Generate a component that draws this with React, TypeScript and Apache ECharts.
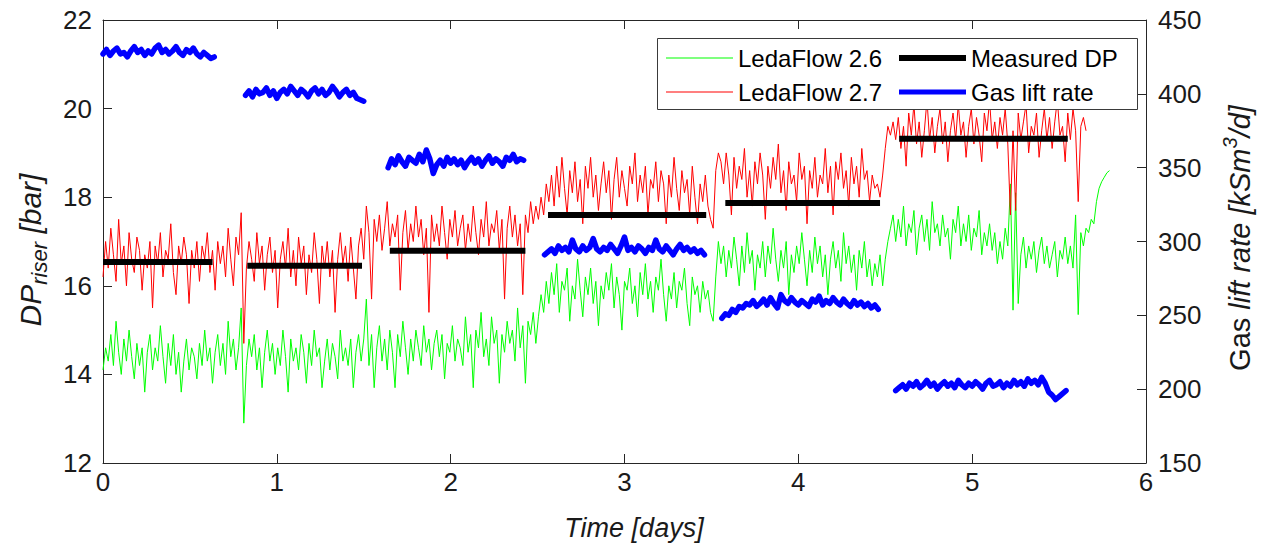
import React, { useEffect, useRef } from "react";
import * as echarts from "echarts";

// ---------------- data ----------------
// simulated DP (bar), sampled every STEP days starting at t = 0
const STEP = 0.015;
const ledaFlow26: number[] = [
  14.1, 14.6, 14.3, 14.9, 14.2, 15.2, 14.5, 14.0, 14.8, 14.3, 15.0, 14.4, 13.9, 14.7, 14.2, 14.6, 13.6, 14.5, 14.9, 14.1,
  14.6, 14.3, 15.1, 14.4, 13.8, 14.7, 14.2, 14.9, 14.0, 14.5, 13.6, 14.3, 14.8, 14.1, 14.6, 14.4, 13.9, 14.7, 14.2, 15.0,
  14.3, 14.6, 13.8, 14.5, 14.9, 14.2, 14.7, 14.0, 15.2, 14.4, 14.8, 14.1, 14.6,
  15.5, 12.9,
  14.2, 14.8, 14.4, 14.9, 14.1, 14.6, 13.7, 14.5, 15.0, 14.3, 14.7, 14.0, 14.6, 14.2, 15.0, 14.4, 13.6, 14.8, 14.3, 14.6,
  14.1, 14.9, 14.5, 13.8, 14.7, 14.2, 15.0, 14.4, 14.6, 13.7, 14.3, 14.8, 14.1, 14.7, 14.4, 13.9, 15.0, 14.3, 14.6, 14.2,
  14.8, 13.7, 14.5, 14.9, 14.3, 14.8,
  15.7, 14.2, 14.9, 13.7, 14.6, 15.1, 14.3, 14.8, 14.1, 15.0, 14.5, 13.7, 14.9, 14.4, 15.2, 14.6, 14.0, 14.8, 14.3, 15.0,
  14.6, 14.2, 15.1, 14.5, 14.8, 14.1, 14.7, 15.0, 14.4, 14.9, 13.9, 14.7, 14.5, 15.1, 14.3, 14.8, 14.6, 14.2, 15.3, 14.5,
  14.9, 13.7, 15.0, 14.6, 15.4, 14.4, 14.8, 14.2, 15.3, 14.7, 15.0, 13.8, 14.9, 14.5, 15.2, 14.7, 15.0, 14.3, 15.5, 14.6,
  15.1, 13.8, 15.2, 14.9, 15.4, 14.7,
  15.3, 15.8, 15.4, 16.1,
  15.6, 16.3, 15.8, 16.5, 15.4, 16.1, 15.9, 16.4, 15.2, 16.0, 15.7, 16.6, 15.9, 15.3, 16.2, 15.8, 16.4, 15.6, 16.1, 15.1,
  16.0, 15.7, 16.3, 15.9, 16.5, 15.5, 16.2, 15.8, 15.0, 16.1, 15.9, 16.4, 15.6, 16.0, 15.3, 16.3, 15.8, 16.5, 15.7, 16.1,
  15.4, 16.2, 15.9, 16.6, 15.8, 15.2, 16.0, 15.7, 16.3, 15.5, 16.1, 15.9, 16.4, 15.6, 15.1, 16.2, 15.8, 16.0, 15.4, 16.1,
  15.7, 15.9,
  15.4, 15.2, 16.2, 17.0,
  16.5, 16.9, 16.2, 16.8, 16.4, 17.1, 16.6, 16.0, 16.9, 16.3, 17.2, 16.5, 16.8, 15.9, 16.7, 16.4, 17.0, 16.2, 16.9, 16.5,
  17.3, 16.6, 16.1, 16.8, 16.4, 17.0, 15.8, 16.7, 16.3, 16.9, 16.5, 17.2, 16.6, 16.0, 16.8, 16.3, 17.1, 16.5, 16.9, 16.2,
  16.7, 15.8, 16.6, 17.0, 16.4, 16.8, 16.1, 17.2, 16.5, 16.9, 16.3, 16.7, 15.9, 16.8, 16.4, 17.0, 16.2, 16.6, 16.0, 16.5,
  16.2, 16.7,
  16.0, 16.6, 17.0, 17.3, 17.6,
  17.0, 17.5, 17.1, 17.8, 16.9, 17.4, 17.2, 17.7, 16.7, 17.3, 17.6, 17.0, 17.5, 16.8, 17.9, 17.2, 17.4, 16.9, 17.6, 17.1,
  17.3, 16.6, 17.5, 17.2, 17.8, 16.9, 17.4, 17.0, 17.6, 16.8, 17.3, 17.1, 17.7, 16.7, 17.2, 16.9, 17.4,
  16.8, 17.2, 16.5, 17.0, 16.6, 17.3, 16.9, 18.3, 15.45, 18.1, 15.6, 16.7, 17.1, 16.4, 16.9, 16.6, 17.0, 16.3, 16.8, 17.1,
  16.5, 16.9, 16.4, 16.7, 17.0, 16.2, 16.8, 16.6, 17.1, 16.5, 16.9, 16.4,
  17.6, 15.35, 17.2,
  16.9, 17.3, 17.2, 17.5, 17.4, 17.9, 18.2, 18.35, 18.45, 18.55, 18.6,
];
const ledaFlow27: number[] = [
  16.2, 17.0, 16.4, 17.3, 16.7, 16.1, 17.5, 16.5, 16.9, 16.0, 17.2, 16.6, 16.3, 17.1, 16.8, 15.9, 16.7, 16.4, 17.0, 15.5,
  16.9, 16.5, 17.2, 16.2, 16.8, 16.6, 17.4, 16.3, 15.8, 16.9, 16.5, 17.1, 16.7, 15.6, 16.8, 16.4, 17.0, 16.1, 16.9, 16.6,
  17.2, 16.3, 16.8, 15.9, 17.0, 16.5, 16.9, 16.2, 17.3, 16.6, 16.0, 17.1, 16.7,
  17.65, 14.7,
  16.4, 17.0, 16.6, 16.1, 17.2, 16.5, 16.9, 15.9, 16.7, 17.1, 16.3, 16.8, 15.5, 16.6, 17.0, 16.4, 17.3, 16.2, 16.8, 16.0,
  17.1, 16.5, 16.9, 15.8, 16.7, 16.3, 17.2, 16.6, 15.6, 16.9, 16.4, 17.0, 16.2, 16.8, 15.4, 16.6, 17.2, 16.5, 16.9, 16.1,
  17.1, 16.4, 15.7, 16.9, 17.3, 16.6,
  17.8, 17.2, 15.7, 17.5, 17.0, 17.6, 16.8, 17.3, 17.9, 16.9, 17.4, 17.1, 17.6, 15.9, 17.2, 17.7, 16.8, 17.4, 17.0, 17.8,
  17.1, 17.5, 16.7, 17.3, 15.4, 17.6, 17.0, 17.4, 16.9, 17.8, 17.2, 16.6, 17.5, 17.1, 17.7, 16.9, 17.3, 17.6, 16.8, 17.4,
  17.0, 17.8, 17.2, 16.7, 17.5, 17.1, 17.9, 16.9, 17.4, 17.2, 17.7, 16.8, 17.5, 15.7, 17.3, 17.8, 17.1, 17.6, 16.9, 17.4,
  15.8, 17.6, 17.2, 17.9, 17.4, 17.8,
  17.5, 18.0, 17.6, 18.3, 17.9,
  18.5, 17.8, 18.7, 18.0, 18.9, 18.2, 17.6, 18.6, 18.1, 18.8, 17.9, 18.4, 17.4, 18.7, 18.2, 18.9, 18.0, 18.5, 17.7, 18.3,
  18.8, 18.1, 18.6, 17.5, 18.4, 18.9, 18.0, 18.6, 18.2, 17.8, 18.7, 18.3, 19.0, 17.9, 18.5, 18.1, 18.7, 17.6, 18.4, 18.2,
  18.8, 17.9, 18.6, 18.3, 17.4, 18.5, 18.0, 18.9, 18.2, 17.7, 18.6, 18.1, 18.4, 17.6, 18.7, 18.0, 17.4, 18.3, 17.9, 18.5,
  17.8,
  17.5, 17.3, 18.6, 19.0,
  18.8, 18.3, 19.0, 18.5, 17.6, 18.9, 18.2, 18.7, 18.4, 19.1, 18.0, 18.6, 17.8, 18.8, 18.3, 19.0, 18.5, 17.5, 18.7, 18.2,
  18.9, 18.4, 19.2, 18.1, 18.6, 17.7, 18.8, 18.3, 18.5, 17.9, 19.0, 18.4, 18.7, 17.4, 18.6, 18.2, 18.9, 18.0, 18.5, 18.3,
  19.1, 18.1, 18.7, 17.6, 18.8, 18.4, 19.0, 18.2, 18.6, 17.8, 18.9, 18.3, 18.7, 18.0, 19.1, 18.4, 18.6, 17.9, 18.5, 18.2,
  18.3,
  18.0, 18.5, 19.1, 19.6, 19.4, 19.7,
  19.3, 19.8, 19.1, 19.6, 18.7, 19.9, 19.4, 20.1, 19.2, 19.7, 18.9, 19.5, 20.2, 19.3, 19.8, 19.0, 19.6, 20.0, 19.2, 19.7,
  18.8, 19.5, 19.9, 19.3, 20.1, 19.4, 19.7, 18.9, 19.6, 20.0, 19.2, 19.8, 19.4, 18.8, 19.9, 19.5, 20.2, 19.3, 19.7, 19.1,
  19.8, 19.4, 20.0, 19.2, 17.6, 19.5, 17.7, 19.9, 19.3, 19.7, 20.1, 19.0, 19.6, 19.4, 19.9, 18.9, 19.5, 20.0, 19.3, 19.8,
  19.1, 19.7, 20.2, 19.4, 19.6, 18.8, 19.9, 19.3, 20.0, 19.5, 17.9, 19.6, 19.8,
  19.5,
];

// measured DP plateaus (bar)
const measuredStart = [0, 0.83, 1.65, 2.56, 3.58, 4.58];
const measuredEnd = [0.63, 1.49, 2.43, 3.47, 4.47, 5.55];
const measuredDP = [16.54, 16.45, 16.79, 17.6, 17.87, 19.32];

// gas lift rate (kSm3/d), each segment sampled every GAS_STEP days from its start
const GAS_STEP = 0.02;
const gasStart = [0, 0.82, 1.64, 2.54, 3.56, 4.56];
const gasSeg1 = [
  427, 430, 426, 429, 431, 427, 428, 425, 429, 432, 428, 430, 426, 429, 427, 431, 433, 428, 430, 427,
  429, 432, 428, 426, 430, 428, 431, 427, 425, 428, 426, 424, 425,
];
const gasSeg2 = [
  399, 402, 398, 403, 400, 401, 404, 399, 402, 397, 401, 403, 400, 405, 402, 399, 403, 401, 398, 402,
  404, 400, 403, 399, 401, 405, 402, 398, 401, 403, 399, 401, 397, 396, 395,
];
const gasSeg3 = [
  350, 356, 352, 358, 354, 351, 357, 355, 353, 359, 354, 362, 356, 346, 352, 355, 351, 357, 353, 356,
  352, 355, 350, 354, 357, 353, 356, 351, 355, 358, 353, 356, 354, 351, 357, 355, 359, 354, 356, 355,
];
const gasSeg4 = [
  291, 293, 295, 292, 297, 294, 296, 293, 301, 295, 293, 297, 294, 296, 302, 295, 293, 296, 294, 298,
  295, 292, 297, 303, 294, 296, 293, 297, 295, 292, 296, 294, 301, 295, 293, 297, 294, 291, 295, 298,
  294, 296, 293, 295, 292, 294, 291,
];
const gasSeg5 = [
  248, 251, 250, 254, 252, 256, 255, 258, 257, 260, 256, 258, 261, 257, 262, 258, 255, 264, 260, 258,
  262, 259, 257, 260, 258, 256, 261, 259, 263, 257, 260, 258, 262, 259, 257, 261, 258, 256, 260, 257,
  259, 256, 258, 255, 257, 254,
];
const gasSeg6 = [
  199, 201, 203, 200, 204, 202, 205, 201, 203, 206, 202, 204, 200, 203, 205, 202, 204, 201, 206, 203,
  201, 204, 202, 205, 203, 200, 204, 206, 202, 203, 205, 201, 204, 202, 206, 203, 205, 202, 207, 204,
  206, 203, 208, 204, 198, 196, 193, 195, 197, 199,
];
const gasSegments = [gasSeg1, gasSeg2, gasSeg3, gasSeg4, gasSeg5, gasSeg6];

// legend entries: name, column, row, icon thickness
const legendNames = ["LedaFlow 2.6", "LedaFlow 2.7", "Measured DP", "Gas lift rate"];

// ---------------- styling ----------------
const FONT = "'Liberation Sans', Arial, Helvetica, sans-serif";
const AX = "#262626";
const TXT = "#1a1a1a";

function measure(ctx: CanvasRenderingContext2D, text: string, size: number, italic: boolean) {
  ctx.font = `${italic ? "italic " : ""}${size}px ${FONT}`;
  return ctx.measureText(text).width;
}

type Part = { text: string; size: number; italic: boolean; dy: number };

function titleGroup(ctx: CanvasRenderingContext2D, parts: Part[], cx: number, cy: number, rotation: number) {
  const widths = parts.map((p) => measure(ctx, p.text, p.size, p.italic));
  const total = widths.reduce((a, b) => a + b, 0);
  let x = -total / 2;
  const children = parts.map((p, i) => {
    const el = {
      type: "text",
      x,
      y: p.dy,
      style: {
        text: p.text,
        fontSize: p.size,
        fontStyle: p.italic ? "italic" : "normal",
        fontFamily: FONT,
        fill: TXT,
        align: "left",
        verticalAlign: "middle",
      },
    };
    x += widths[i];
    return el;
  });
  return { type: "group", x: cx, y: cy, rotation, children, z: 30, silent: true };
}

export default function App() {
  const ref = useRef<HTMLDivElement>(null);

  useEffect(() => {
    if (!ref.current) return;
    const chart = echarts.init(ref.current, undefined, { renderer: "svg" });
    const ctx = document.createElement("canvas").getContext("2d") as CanvasRenderingContext2D;

    const greenData = ledaFlow26.map((v, i) => [+(i * STEP).toFixed(4), v]);
    const redData = ledaFlow27.map((v, i) => [+(i * STEP).toFixed(4), v]);

    const measuredSeries = measuredDP.map((v, i) => ({
      name: "Measured DP",
      type: "line",
      xAxisIndex: 0,
      yAxisIndex: 0,
      symbol: "none",
      data: [
        [measuredStart[i], v],
        [measuredEnd[i], v],
      ],
      lineStyle: { color: "#000000", width: 6, cap: "butt" },
      itemStyle: { color: "#000000" },
      z: 4,
    }));

    const gasSeries = gasSegments.map((seg, k) => ({
      name: "Gas lift rate",
      type: "line",
      xAxisIndex: 0,
      yAxisIndex: 1,
      symbol: "none",
      data: seg.map((v, i) => [+(gasStart[k] + i * GAS_STEP).toFixed(4), v]),
      lineStyle: { color: "#0000ff", width: 5.5, cap: "round", join: "round" },
      itemStyle: { color: "#0000ff" },
      z: 5,
    }));

    const axisCommon = {
      axisLine: { show: true, onZero: false, lineStyle: { color: AX, width: 1 } },
      axisTick: { show: true, inside: true, length: 9, lineStyle: { color: AX, width: 1 } },
      splitLine: { show: false },
    };

    const legendText = { fontSize: 24, fontFamily: FONT, color: "#000", lineHeight: 24 };
    const legendLeft = [666, 666, 899, 899];
    const legendTop = [46, 80, 46, 80];
    const legendThick = [1.2, 1.2, 6, 5];
    const legends = legendNames.map((name, i) => ({
      data: [name],
      orient: "vertical",
      left: legendLeft[i],
      top: legendTop[i],
      icon: "rect",
      itemWidth: 67,
      itemHeight: legendThick[i],
      padding: 0,
      selectedMode: false,
      textStyle: legendText,
      z: 20,
    }));

    chart.setOption({
      animation: false,
      backgroundColor: "#ffffff",
      grid: { left: 103, right: 117, top: 20, bottom: 86, containLabel: false },
      xAxis: [
        {
          type: "value",
          min: 0,
          max: 6,
          interval: 1,
          position: "bottom",
          ...axisCommon,
          axisLabel: { fontSize: 26, color: TXT, fontFamily: FONT, margin: 6 },
        },
        {
          type: "value",
          min: 0,
          max: 6,
          interval: 1,
          position: "top",
          ...axisCommon,
          axisLabel: { show: false },
        },
      ],
      yAxis: [
        {
          type: "value",
          min: 12,
          max: 22,
          interval: 2,
          position: "left",
          ...axisCommon,
          axisLabel: { fontSize: 26, color: TXT, fontFamily: FONT, margin: 11 },
        },
        {
          type: "value",
          min: 150,
          max: 450,
          interval: 50,
          position: "right",
          ...axisCommon,
          axisLabel: { fontSize: 26, color: TXT, fontFamily: FONT, margin: 12 },
        },
      ],
      legend: legends,
      graphic: [
        {
          type: "rect",
          shape: { x: 657.5, y: 38.5, width: 480, height: 71 },
          style: { fill: "#ffffff", stroke: "#3a3a3a", lineWidth: 1 },
          z: 10,
          silent: true,
        },
        titleGroup(
          ctx,
          [
            { text: "DP", size: 30, italic: true, dy: 0 },
            { text: "riser", size: 22, italic: true, dy: 9 },
            { text: " [bar]", size: 30, italic: true, dy: 0 },
          ],
          30,
          250,
          Math.PI / 2
        ),
        titleGroup(
          ctx,
          [
            { text: "Gas ", size: 29, italic: false, dy: 0 },
            { text: "lift rate [kSm", size: 29, italic: true, dy: 0 },
            { text: "3", size: 20, italic: true, dy: -10 },
            { text: "/d]", size: 29, italic: true, dy: 0 },
          ],
          1240,
          238,
          Math.PI / 2
        ),
        titleGroup(ctx, [{ text: "Time [days]", size: 27, italic: true, dy: 0 }], 634, 528, 0),
      ],
      series: [
        {
          name: "LedaFlow 2.6",
          type: "line",
          xAxisIndex: 0,
          yAxisIndex: 0,
          symbol: "none",
          data: greenData,
          lineStyle: { color: "#00ff00", width: 1 },
          itemStyle: { color: "#00ff00" },
          z: 2,
        },
        {
          name: "LedaFlow 2.7",
          type: "line",
          xAxisIndex: 0,
          yAxisIndex: 0,
          symbol: "none",
          data: redData,
          lineStyle: { color: "#ff0000", width: 1 },
          itemStyle: { color: "#ff0000" },
          z: 3,
        },
        ...measuredSeries,
        ...gasSeries,
      ],
    });

    return () => chart.dispose();
  }, []);

  return (
    <div
      ref={ref}
      style={{ position: "absolute", left: 0, top: 0, width: 1263, height: 549, background: "#fff" }}
    />
  );
}
